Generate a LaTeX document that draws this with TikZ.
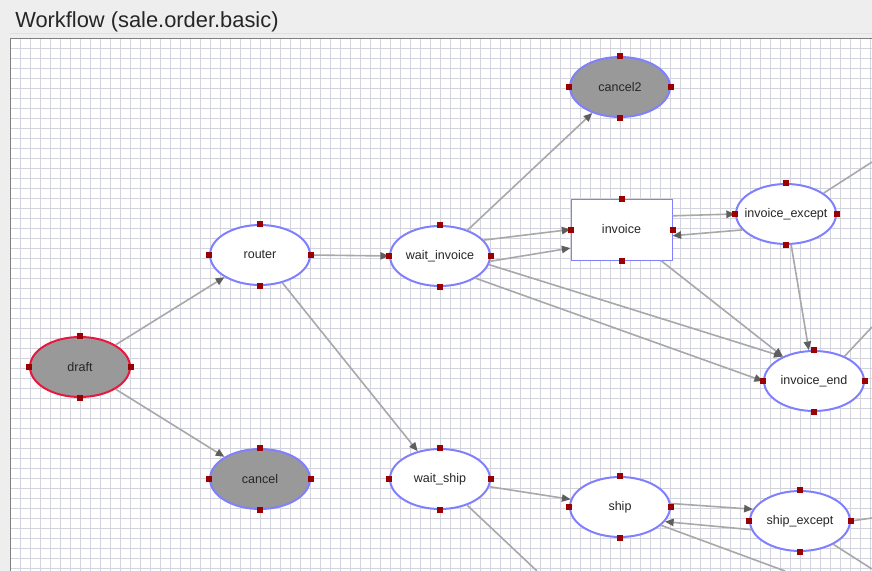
\documentclass[tikz,border=0pt]{standalone}
\usepackage{fontspec}
\setmainfont{Liberation Sans}
\usetikzlibrary{arrows.meta,shapes.geometric}
\definecolor{stateline}{HTML}{8080FF}
\definecolor{startline}{HTML}{E8173F}
\definecolor{statefill}{HTML}{999999}
\definecolor{handlered}{HTML}{990000}
\definecolor{flowgray}{HTML}{A8A8A8}
\definecolor{tipgray}{HTML}{5E5E5E}
\definecolor{gridline}{HTML}{D4D4DE}
\definecolor{panel}{HTML}{EFEEEE}
\begin{document}
\begin{tikzpicture}[x=0.75pt,y=-0.75pt,
    state/.style={ellipse,draw=stateline,line width=1.5pt,fill=white,minimum width=75pt,minimum height=45pt,inner ysep=0pt,inner xsep=-12pt,font=\fontsize{9.4}{11}\selectfont,text=black!85},
    endstate/.style={state,fill=statefill},
    activity/.style={rectangle,draw=stateline,line width=0.75pt,fill=white,minimum width=75.75pt,minimum height=45.75pt,inner sep=0pt,font=\fontsize{9.4}{11}\selectfont,text=black!85},
    flow/.style={draw=flowgray,line width=1.2pt,-{Triangle[length=6.5pt,width=5.5pt,color=tipgray]}},
    flowline/.style={draw=flowgray,line width=1.2pt}]
    \useasboundingbox (0,0) rectangle (872,571);
    \fill[panel] (0,0) rectangle (872,571);
    \fill[white] (10,38) rectangle (872,571);
    \foreach \x in {20,30,...,870} \draw[gridline,line width=0.75pt] (\x,38) -- (\x,571);
    \foreach \y in {48,58,...,568} \draw[gridline,line width=0.75pt] (10,\y) -- (872,\y);
    \draw[black!12,line width=0.75pt] (10,33) -- (872,33);
    \draw[black!50,line width=0.75pt] (872,38) -- (10,38) -- (10,571);
    \node[anchor=base west,inner sep=0pt,font=\fontsize{16.4}{19}\selectfont,text=black!85] (title) at (15,27) {Workflow (sale.order.basic)};

    \node[endstate,draw=startline] (draft) at (80,367) {draft};
    \node[state] (router) at (260,255) {router};
    \node[endstate] (cancel) at (260,479) {cancel};
    \node[state] (waitinv) at (440,256) {wait\_invoice};
    \node[state] (waitship) at (440,479) {wait\_ship};
    \node[endstate] (cancel2) at (620,87) {cancel2};
    \node[activity] (invoice) at (621.5,229.5) {invoice};
    \node[state] (invexcept) at (786,214) {invoice\_except};
    \node[state] (invend) at (814,381) {invoice\_end};
    \node[state] (ship) at (620,507) {ship};
    \node[state] (shipexcept) at (800,521) {ship\_except};

    \coordinate (out1) at (872,162);
    \coordinate (out2) at (872,327);
    \coordinate (out3) at (872,518);
    \coordinate (out4) at (872,569);
    \coordinate (out5) at (785,571);
    \coordinate (out6) at (537,571);

    \draw[flow] (draft) -- (router);
    \draw[flow] (draft) -- (cancel);
    \draw[flow] (router.east) -- (waitinv.west);
    \draw[flow] (router) -- (waitship);
    \draw[flow] (waitinv) -- (cancel2);
    \draw[flow] (waitinv.20) -- (invoice.west);
    \draw[flow] (waitinv.-6) -- (invoice.200);
    \draw[flow] (waitinv.-10) -- (invend.142);
    \draw[flow] (waitinv.-32) -- (invend.west);
    \draw[flow] (invoice.15) -- (invexcept.west);
    \draw[flow] (invexcept.200) -- (invoice.-7);
    \draw[flow] (invoice) -- (invend);
    \draw[flow] (invexcept) -- (invend);
    \draw[flow] (waitship) -- (ship);
    \draw[flow] (ship.4) -- (shipexcept.166);
    \draw[flow] (shipexcept.190) -- (ship.-18);
    \draw[flowline] (invexcept.29) -- (out1);
    \draw[flowline] (invend.39) -- (out2);
    \draw[flowline] (shipexcept.east) -- (out3);
    \draw[flowline] (shipexcept.-35) -- (out4);
    \draw[flowline] (ship.-24) -- (out5);
    \draw[flowline] (waitship.-44) -- (out6);

    \foreach \n in {draft,router,cancel,waitinv,waitship,cancel2,invoice,invexcept,invend,ship,shipexcept}
      \foreach \a in {north,south,east,west}
        \fill[handlered] (\n.\a) ++(-3,-3) rectangle ++(6,6);
\end{tikzpicture}
\end{document}
